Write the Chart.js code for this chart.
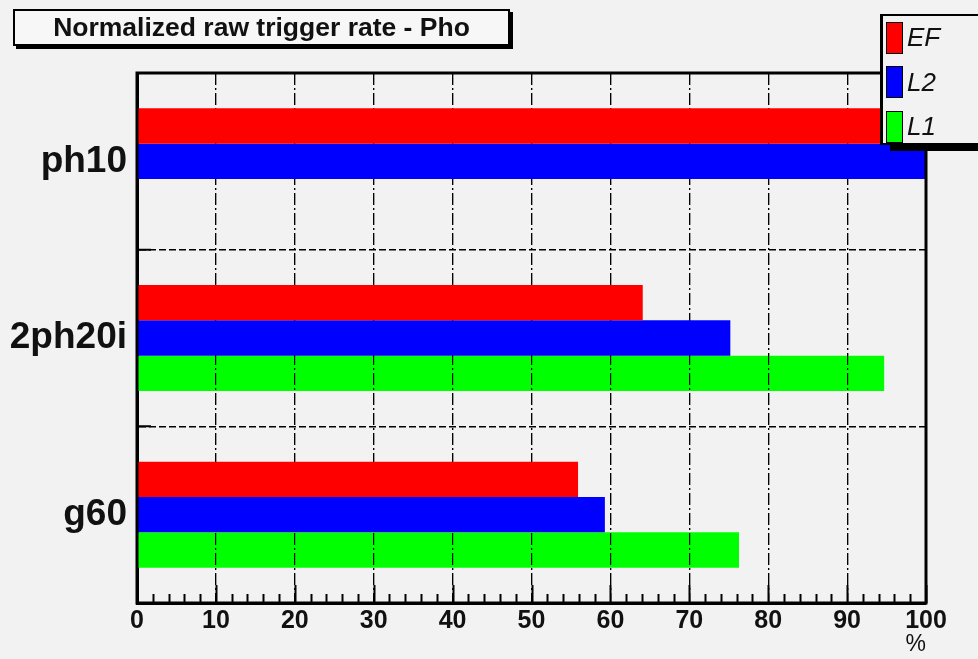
<!DOCTYPE html>
<html>
<head>
<meta charset="utf-8">
<title>Normalized raw trigger rate - Pho</title>
<script src="https://cdn.jsdelivr.net/npm/chart.js@4"></script>
<style>
  body { margin: 0; background: #f2f2f2; }
  #wrap { position: relative; width: 978px; height: 659px; overflow: hidden; }
  #title {
    position: absolute; left: 13px; top: 9px; width: 493px; height: 33px;
    border: 2px solid #000; background: #f7f7f7; box-shadow: 3px 3px 0 #000;
    font: bold 26.5px "Liberation Sans", Arial, sans-serif; color: #111;
    text-align: center; line-height: 33px;
  }
  #legend {
    position: absolute; left: 880px; top: 14px; width: 120px; height: 131px;
    border: 2px solid #000; border-left-width: 3px; background: #f2f2f2;
    box-shadow: 10px 6px 0 #000; padding-top: 6px; box-sizing: border-box;
  }
  .item { height: 31px; margin-bottom: 13.5px; display: flex; align-items: center; }
  .swatch { width: 15px; height: 30px; border: 1px solid #000; margin-left: 3px; }
  .lab { font: italic 26px "Liberation Sans", Arial, sans-serif; color: #111; margin-left: 4px; }
</style>
</head>
<body>
<div id="wrap">
  <canvas id="chart" width="978" height="659"></canvas>
  <div id="title">Normalized raw trigger rate - Pho</div>
  <div id="legend"></div>
</div>
<script>
// data
var categories = ["ph10", "2ph20i", "g60"];
var seriesNames = ["EF", "L2", "L1"];
var seriesColors = ["#ff0000", "#0000ff", "#00ff00"];
var efRate = [100, 64.1, 55.9];
var l2Rate = [100, 75.2, 59.3];
var l1Rate = [null, 94.7, 76.3];
var xTicks = [0, 10, 20, 30, 40, 50, 60, 70, 80, 90, 100];

var seriesData = [efRate, l2Rate, l1Rate];

// legend as html so it can sit over the frame like the original
var legend = document.getElementById("legend");
seriesNames.forEach(function (name, i) {
    var item = document.createElement("div");
    item.className = "item";
    item.innerHTML = '<div class="swatch" style="background:' + seriesColors[i] + '"></div><span class="lab">' + name + '</span>';
    legend.appendChild(item);
});

var framePlugin = {
    id: "frame",
    afterDatasetDraw: function (chart, args) {
        // grid shows through the L1 bars in the original
        if (args.index === 2) chart.scales.x.drawGrid(chart.chartArea);
    },
    afterDatasetsDraw: function (chart) {
        var ctx = chart.ctx, a = chart.chartArea;
        var xs = chart.scales.x, ys = chart.scales.y;
        ctx.save();
        ctx.strokeStyle = "#000";
        // inside ticks on the bottom axis
        ctx.lineWidth = 2;
        ctx.beginPath();
        for (var v = 0; v <= 100; v += 2) {
            var x = Math.round(xs.getPixelForValue(v)) + 0.5;
            var len = v % 10 === 0 ? 18 : 9;
            ctx.moveTo(x, a.bottom);
            ctx.lineTo(x, a.bottom - len);
        }
        // short ticks at category edges on the left axis
        for (var i = 0; i < categories.length - 1; i++) {
            var y = (ys.getPixelForValue(i) + ys.getPixelForValue(i + 1)) / 2;
            ctx.moveTo(a.left, y);
            ctx.lineTo(a.left + 14, y);
        }
        ctx.stroke();
        // frame
        ctx.lineWidth = 3;
        ctx.strokeRect(a.left, a.top, a.right - a.left, a.bottom - a.top);
        ctx.restore();
    }
};

var chart = new Chart(document.getElementById("chart").getContext("2d"), {
    type: "bar",
    data: {
        labels: categories,
        datasets: seriesNames.map(function (name, i) {
            return {
                label: name,
                data: seriesData[i],
                backgroundColor: seriesColors[i],
                borderWidth: 0,
                categoryPercentage: 0.6,
                barPercentage: 1.0
            };
        })
    },
    options: {
        indexAxis: "y",
        responsive: false,
        animation: false,
        layout: { padding: { top: 73, right: 52, left: 0, bottom: 0 } },
        plugins: { legend: { display: false }, tooltip: { enabled: false } },
        scales: {
            x: {
                min: 0,
                max: 100,
                afterBuildTicks: function (s) { s.ticks = xTicks.map(function (v) { return { value: v }; }); },
                afterFit: function (s) { s.height = 56; },
                grid: { color: "#000", lineWidth: 1.2, drawTicks: false },
                border: { display: true, color: "#000", width: 3, dash: [12, 3, 2, 3] },
                ticks: {
                    color: "#111",
                    padding: 3,
                    autoSkip: false,
                    maxRotation: 0,
                    font: { family: "'Liberation Sans', Arial, sans-serif", size: 25, weight: "bold" }
                },
                title: {
                    display: true,
                    text: "%",
                    align: "end",
                    color: "#111",
                    padding: { top: 0, bottom: 1 },
                    font: { family: "'Liberation Sans', Arial, sans-serif", size: 23 }
                }
            },
            y: {
                afterFit: function (s) { s.width = 137; },
                grid: { color: "#000", lineWidth: 1.5, drawTicks: false, offset: true },
                border: { display: true, color: "#000", width: 3, dash: [7, 3] },
                ticks: {
                    color: "#111",
                    padding: 10,
                    font: { family: "'Liberation Sans', Arial, sans-serif", size: 37, weight: "bold" }
                }
            }
        }
    },
    plugins: [framePlugin]
});
</script>
</body>
</html>
